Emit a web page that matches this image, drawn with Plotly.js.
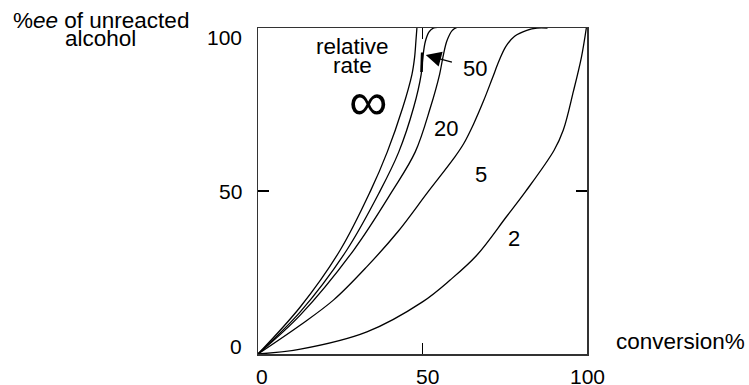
<!DOCTYPE html>
<html>
<head>
<meta charset="utf-8">
<script src="https://cdn.plot.ly/plotly-3.0.1.min.js"></script>
<style>html,body{margin:0;padding:0;background:#fff;}#chart{width:749px;height:385px;}</style>
</head>
<body>
<div id="chart"></div>
<script>
// ---- data ----
const seriesNames = ['∞', '50', '20', '5', '2'];

const convInf = [0, 12.9, 25, 34.1, 39.3, 44.0, 46.8, 47.6, 48.0, 48.3];
const eeInf   = [0, 14.5, 31.9, 49.8, 62.0, 75.6, 85.8, 91.0, 96.0, 100];

const conv50 = [0, 12.9, 27, 37, 42.8, 47.3, 49.6, 50.1, 50.9, 52.0, 53.4, 54.6];
const ee50   = [0, 13.0, 31.9, 49.8, 62.0, 75.6, 85.8, 91.0, 96.0, 98.8, 100, 100.2];

const conv20 = [0, 12.9, 29.1, 40.7, 47.8, 52.4, 55.2, 56.2, 57.4, 59.0, 60.5, 62.5];
const ee20   = [0, 12.0, 31.9, 49.8, 62.0, 75.6, 85.8, 91.0, 96.0, 99.2, 100.2, 100.4];

const conv5 = [0, 12.9, 23, 33.1, 42.5, 51.5, 59.5, 62.5, 65.5, 68.5, 71.2, 73.3, 75.3, 78, 81.7, 84.8, 88];
const ee5   = [0, 8.9, 16.6, 26.8, 37.5, 49.5, 60, 64.5, 70.5, 77.5, 84.5, 90, 94.3, 97.5, 99.3, 100, 100];

const conv2 = [0, 12.9, 33.1, 50, 58.4, 66.5, 75.5, 81.3, 90, 92.8, 95.9, 98.3, 99.8];
const ee2   = [0, 1.5, 6.8, 16, 22.7, 30.3, 42.1, 49.8, 62.5, 68.7, 80.7, 91, 100];

// short heavy stroke drawn over the 50 curve where the arrow points
const markConv = [49.7, 49.9];
const markEe   = [86.5, 92.5];

const xTickVals = [0, 50, 100];
const xTickText = ['0', '50', '100'];
const yTickVals = [0, 50, 100];
const yTickText = ['0', '50', '100'];

const xTitle = 'conversion%';
const yTitleLine1 = '%<i>ee</i> of unreacted';
const yTitleLine2 = 'alcohol';
const legendLine1 = 'relative';
const legendLine2 = 'rate';

// ---- chart ----
const FONT = '"Liberation Sans", Arial, Helvetica, sans-serif';
const lineStyle = {color: '#000', width: 1.3, shape: 'spline', smoothing: 1};
const xs = [convInf, conv50, conv20, conv5, conv2];
const ys = [eeInf, ee50, ee20, ee5, ee2];
const traces = xs.map((x, i) => ({
  x: x, y: ys[i], type: 'scatter', mode: 'lines', name: seriesNames[i],
  line: lineStyle, hoverinfo: 'skip', showlegend: false
}));
traces.push({x: markConv, y: markEe, type: 'scatter', mode: 'lines',
  line: {color: '#000', width: 2.6}, hoverinfo: 'skip', showlegend: false});

const annotations = [];
const txt = (text, opts, size) => Object.assign({text: text, showarrow: false,
  font: {family: FONT, size: size || 21, color: '#000'}}, opts);
// helper: place by offset (px) from plot-area bottom-left corner
const px = (text, dx, dy, size) => txt(text, {x: 0, y: 0, xref: 'paper', yref: 'paper',
  xanchor: 'center', yanchor: 'middle', xshift: dx, yshift: dy}, size);

// tick labels
const xShift = {0: 4, 50: 5, 100: 0};
xTickVals.forEach((v, i) => annotations.push(txt(xTickText[i], {
  x: v, y: 0, xref: 'x', yref: 'y', xanchor: 'center', yanchor: 'middle',
  xshift: xShift[v], yshift: -22})));
const yShift = {0: 8, 50: 0, 100: -9};
yTickVals.forEach((v, i) => annotations.push(txt(yTickText[i], {
  x: 0, y: v, xref: 'paper', yref: 'y', xanchor: 'right', yanchor: 'middle',
  xshift: -14, yshift: yShift[v]})));

// axis titles
annotations.push(px(xTitle, 422, 13, 22.5));
annotations.push(px(yTitleLine1, -157, 334, 22.5));
annotations.push(px(yTitleLine2, -158, 316, 22.5));

// legend-like labels
annotations.push(px(legendLine1, 94, 308, 22.5));
annotations.push(px(legendLine2, 94, 289, 22.5));

// curve labels (positions in data coordinates)
const labelPos = [[33.5, 77.6], [66.1, 87.5], [57.2, 69.2], [67.7, 55], [77.9, 35.4]];
seriesNames.forEach((n, i) => {
  const a = txt(n, {x: labelPos[i][0], y: labelPos[i][1], xref: 'x', yref: 'y'}, 22);
  if (n === '∞') a.font = {family: FONT, size: 54, color: '#000'};
  annotations.push(a);
});
// arrow pointing at the 50 curve
annotations.push({x: 51.0, y: 91.7, ax: 59.4, ay: 89.4, xref: 'x', yref: 'y', axref: 'x', ayref: 'y',
  text: '', showarrow: true, arrowhead: 2, arrowsize: 2.8, arrowwidth: 1.1, arrowcolor: '#000', standoff: 0});

const axisCommon = {
  range: [0, 100], showgrid: false, zeroline: false,
  showline: true, linecolor: '#333', linewidth: 1.5, mirror: 'ticks',
  ticks: 'inside', ticklen: 11, tickwidth: 1.2, tickcolor: '#000',
  tickvals: [50], showticklabels: false, fixedrange: true
};

const layout = {
  width: 749, height: 385,
  margin: {l: 258, r: 162, t: 28, b: 31, pad: 0},
  paper_bgcolor: '#fff', plot_bgcolor: '#fff',
  xaxis: Object.assign({}, axisCommon),
  yaxis: Object.assign({}, axisCommon),
  annotations: annotations,
  showlegend: false,
  font: {family: FONT, color: '#000'}
};

Plotly.newPlot('chart', traces, layout, {staticPlot: true, displayModeBar: false});
</script>
</body>
</html>
